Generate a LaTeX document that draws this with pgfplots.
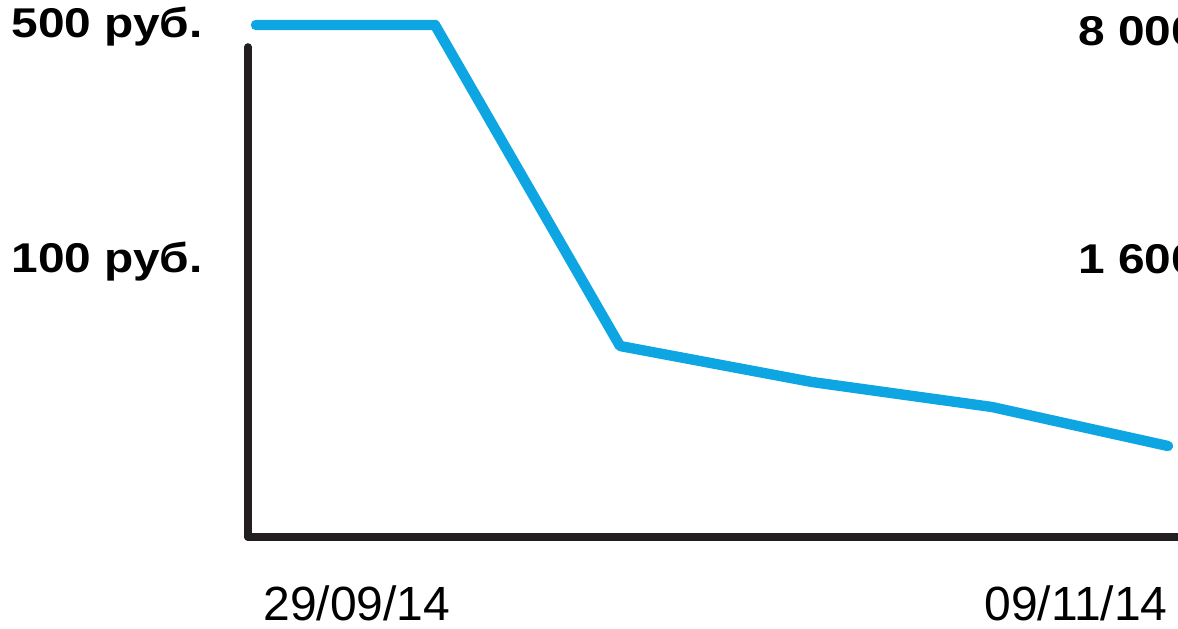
\documentclass[border=0pt]{standalone}
\usepackage{fontspec}
\setmainfont{Liberation Sans}
\usepackage{pgfplots}
\pgfplotsset{compat=1.18}
\definecolor{linecyan}{RGB}{14,166,226}
\definecolor{axisdark}{RGB}{35,31,32}
\begin{document}
\begin{tikzpicture}
\begin{axis}[
  scale only axis,
  width=465pt, height=245pt,
  xmin=248, xmax=1178, ymin=91, ymax=581,
  axis x line=bottom, axis y line=left,
  axis line style={line width=3.8pt, color=axisdark, -, line cap=round},
  xtick=\empty, ytick=\empty,
  clip=false,
]
\addplot[linecyan, line width=5.2pt, line cap=round, line join=round]
  coordinates {(256,603) (435,603) (620,282) (812,246) (992,221) (1168,182)};
\coordinate (bl) at (axis cs:0,0);
\coordinate (tr) at (axis cs:1178,628);
\node[anchor=base west, inner sep=0pt, xscale=1.15, font=\fontsize{20.8}{24}\selectfont\bfseries] at (axis cs:11,590) {500 руб.};
\node[anchor=base west, inner sep=0pt, xscale=1.15, font=\fontsize{20.8}{24}\selectfont\bfseries] at (axis cs:11,356) {100 руб.};
\node[anchor=base west, inner sep=0pt, xscale=1.15, font=\fontsize{20.8}{24}\selectfont\bfseries] at (axis cs:1078,583) {8 000 руб.};
\node[anchor=base west, inner sep=0pt, xscale=1.15, font=\fontsize{20.8}{24}\selectfont\bfseries] at (axis cs:1078,355) {1 600 руб.};
\node[anchor=base west, inner sep=0pt, font=\fontsize{24}{28}\selectfont] at (axis cs:263,8) {29/09/14};
\node[anchor=base west, inner sep=0pt, font=\fontsize{24}{28}\selectfont] at (axis cs:984,8) {09/11/14};
\end{axis}
\pgfresetboundingbox
\useasboundingbox (bl) rectangle (tr);
\end{tikzpicture}
\end{document}
